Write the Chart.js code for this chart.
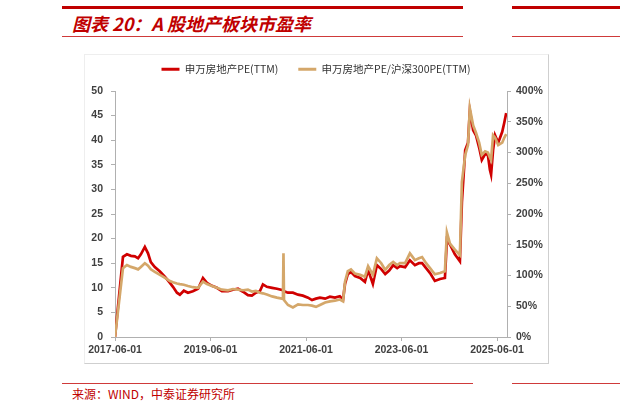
<!DOCTYPE html>
<html><head><meta charset="utf-8">
<script src="https://cdn.jsdelivr.net/npm/chart.js@4"></script>
<style>
html,body{margin:0;padding:0;background:#fff;width:620px;height:415px;overflow:hidden;position:relative;font-family:"Noto Sans CJK SC",sans-serif}
.bar{position:absolute;background:#C00000}
.thin{position:absolute;background:#cf3a3a}
#title{position:absolute;left:72px;top:11px;font-size:18px;font-weight:bold;font-style:italic;color:#C00000;white-space:nowrap;line-height:24px}
#source{position:absolute;left:72px;top:385px;font-size:12px;color:#C00000;line-height:18px;white-space:nowrap}
#frame{position:absolute;left:84px;top:54px;width:463px;height:308px;border:1px solid #eeeeee;border-right-color:#cfcfcf;border-bottom-color:#cfcfcf}
#wrap{position:absolute;left:84px;top:44px;width:464px;height:319px}
</style></head>
<body>
<div class="bar" style="left:62px;top:6px;width:401px;height:3px"></div>
<div class="bar" style="left:512px;top:6px;width:108px;height:3px"></div>
<div class="thin" style="left:62px;top:36px;width:401px;height:1px"></div>
<div class="thin" style="left:512px;top:36px;width:108px;height:1px"></div>
<div id="title">图表 20：A 股地产板块市盈率</div>
<div class="thin" style="left:62px;top:383px;width:411px;height:1px"></div>
<div class="thin" style="left:512px;top:383px;width:108px;height:1px"></div>
<div id="source">来源：WIND，中泰证券研究所</div>
<div id="frame"></div>
<div id="wrap"><canvas id="c" width="464" height="319"></canvas></div>
<script>
const dates = ['2017-06-01','2017-08-01','2017-09-01','2017-10-01','2017-11-01','2017-11-25','2017-12-16','2018-01-16','2018-02-10','2018-03-01',
'2018-04-01','2018-05-10','2018-06-18','2018-07-25','2018-08-18','2018-09-18','2018-10-10','2018-11-10','2018-12-11','2019-01-18',
'2019-02-27','2019-04-04','2019-05-04','2019-06-12','2019-07-19','2019-08-27','2019-10-13','2019-11-20','2019-12-28','2020-02-06',
'2020-03-13','2020-04-13','2020-05-13','2020-06-13','2020-07-06','2020-08-06','2020-09-15','2020-10-22','2020-12-07','2020-12-11',
'2020-12-15','2021-01-15','2021-02-22','2021-04-01','2021-05-07','2021-06-16','2021-07-16','2021-08-16','2021-09-16','2021-10-25',
'2021-12-01','2022-01-09','2022-02-16','2022-03-10','2022-03-25','2022-04-16','2022-05-10','2022-06-10','2022-07-19','2022-08-25',
'2022-09-19','2022-10-25','2022-11-25','2022-12-28','2023-01-28','2023-02-28','2023-03-28','2023-04-28','2023-05-19','2023-06-28',
'2023-08-04','2023-09-12','2023-10-12','2023-11-06','2023-12-06','2024-01-06','2024-02-12','2024-03-21','2024-04-28','2024-05-13',
'2024-06-06','2024-07-13','2024-08-21','2024-09-06','2024-10-01','2024-10-22','2024-11-06','2024-12-01','2024-12-22','2025-01-16',
'2025-02-06','2025-03-01','2025-03-22','2025-04-07','2025-04-16','2025-05-01','2025-05-16','2025-06-10','2025-07-10','2025-07-25','2025-08-10'];

const swRealEstatePE = [0,16.3,16.8,16.5,16.4,16.0,16.8,18.3,17.0,15.2,
14.2,13.3,12.2,11.0,10.2,9.0,8.6,9.4,9.0,9.3,
9.8,12.0,11.0,10.4,10.0,9.3,9.3,9.6,9.8,9.2,
8.5,8.4,9.0,9.3,10.7,10.2,10.0,9.8,9.5,9.4,
9.3,9.0,9.0,8.6,8.4,8.0,7.5,7.8,8.0,7.8,
8.2,8.0,8.3,7.6,10.8,12.8,13.2,12.4,12.0,11.2,
13.6,10.8,14.6,13.8,12.8,13.5,14.6,14.0,14.4,14.2,
15.6,14.6,15.0,15.0,14.0,13.0,11.4,11.8,12.0,19.7,
18.8,16.8,15.4,27.4,38.0,39.5,46.0,42.0,41.0,38.5,
36.0,37.2,37.0,34.0,33.0,38.0,41.0,39.5,41.7,43.5,45.5];

const peRelativeHS300 = [0,112,117,114,112,110,114,120,116,110,
106,101,96,91,89,87,86,85,83,81,
80,90,86,83,80,77,76,78,77,76,
77,74,75,72,71,69,66,64,62,136,
60,52,48,53,52,52,51,49,52,56,
58,59,61,58,90,107,110,103,101,98,
115,101,128,120,109,117,122,117,120,120,
136,125,128,130,120,112,102,104,107,170,
152,142,133,252,296,312,372,344,332,316,
296,302,300,292,288,328,324,312,316,324,330];

const seriesNames = ['申万房地产PE(TTM)','申万房地产PE/沪深300PE(TTM)'];
const xTickLabels = ['2017-06-01','2019-06-01','2021-06-01','2023-06-01','2025-06-01'];
const leftTicks = {min:0,max:50,step:5};
const rightTicks = {min:0,max:400,step:50};

function monthIndex(s){const p=s.split('-').map(Number);return (p[0]-2017)*12+(p[1]-6)+(p[2]-1)/30;}

const redPts = dates.map((d,i)=>({x:monthIndex(d),y:swRealEstatePE[i]}));
const tanPts = dates.map((d,i)=>({x:monthIndex(d),y:peRelativeHS300[i]}));

const RED='#D00000', TAN='#D4A76A', AXIS='#b0b0b0', TXT='#404040';
const tickFont={family:'"Liberation Sans", Arial, sans-serif',size:10.5,weight:'bold'};

const legendFix={id:'legendFix',beforeLayout(chart){
  const l=chart.legend; if(!l||l._fixed) return; l._fixed=true;
  const f=l.fit; l.fit=function(){f.call(this); this.height=47;};
}};

new Chart(document.getElementById('c'),{
  type:'line',
  data:{datasets:[
    {label:seriesNames[0],data:redPts,borderColor:RED,backgroundColor:RED,borderWidth:2.7,pointRadius:0,tension:0,yAxisID:'y',order:1},
    {label:seriesNames[1],data:tanPts,borderColor:TAN,backgroundColor:TAN,borderWidth:2.7,pointRadius:0,tension:0,yAxisID:'y1',order:0}
  ]},
  options:{
    responsive:false,animation:false,devicePixelRatio:1,
    layout:{padding:0},
    plugins:{
      legend:{display:true,position:'top',align:'center',
        labels:{boxWidth:18,boxHeight:3,padding:20,color:'#333',
          font:{family:'"Noto Sans CJK SC", sans-serif',size:10.5,weight:'normal'},
          sort:(a,b)=>a.datasetIndex-b.datasetIndex,
          generateLabels(chart){
            const items=Chart.defaults.plugins.legend.labels.generateLabels(chart);
            items.forEach(it=>{it.lineWidth=0;it.strokeStyle='rgba(0,0,0,0)';});
            return items;
          }}},
      tooltip:{enabled:false}
    },
    scales:{
      x:{type:'linear',min:0,max:98.5,
        afterBuildTicks(s){s.ticks=xTickLabels.map(t=>({value:monthIndex(t)}));},
        afterFit(s){s.height=26;},
        ticks:{includeBounds:false,autoSkip:false,maxRotation:0,padding:3,color:TXT,font:tickFont,
          callback(v){const i=xTickLabels.findIndex(t=>Math.abs(monthIndex(t)-v)<0.01);return i>=0?xTickLabels[i]:'';}},
        grid:{display:true,drawOnChartArea:false,drawTicks:true,tickLength:4,color:AXIS},
        border:{display:true,color:AXIS}
      },
      y:{position:'left',min:leftTicks.min,max:leftTicks.max,
        afterFit(s){s.width=31;},
        ticks:{stepSize:leftTicks.step,padding:8,color:TXT,font:tickFont},
        grid:{display:true,drawOnChartArea:false,drawTicks:true,tickLength:4,color:AXIS},
        border:{display:true,color:AXIS}
      },
      y1:{position:'right',min:rightTicks.min,max:rightTicks.max,
        afterFit(s){s.width=41;},
        ticks:{stepSize:rightTicks.step,padding:5,color:TXT,font:tickFont,callback(v){return v+'%';}},
        grid:{display:true,drawOnChartArea:false,drawTicks:true,tickLength:4,color:AXIS},
        border:{display:true,color:AXIS}
      }
    }
  },
  plugins:[legendFix]
});
</script>
</body></html>
